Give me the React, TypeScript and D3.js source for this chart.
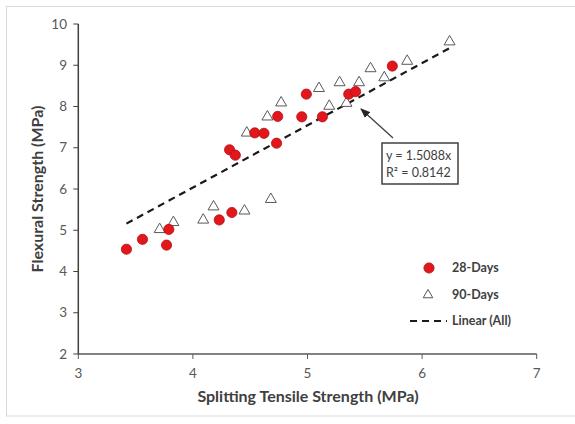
import React from "react";
import * as d3 from "d3";

const days28X = [3.42, 3.56, 3.77, 3.79, 4.23, 4.34, 4.32, 4.37, 4.54, 4.62, 4.73, 4.74, 4.95, 4.99, 5.13, 5.36, 5.42, 5.74];
const days28Y = [4.54, 4.78, 4.64, 5.02, 5.25, 5.43, 6.95, 6.82, 7.36, 7.35, 7.11, 7.76, 7.75, 8.30, 7.75, 8.30, 8.36, 8.98];
const days90X = [3.71, 3.83, 4.09, 4.18, 4.45, 4.68, 4.47, 4.65, 4.77, 5.10, 5.19, 5.28, 5.45, 5.34, 5.55, 5.67, 5.87, 6.24];
const days90Y = [5.02, 5.19, 5.25, 5.57, 5.47, 5.75, 7.36, 7.75, 8.09, 8.44, 8.01, 8.58, 8.58, 8.08, 8.92, 8.70, 9.10, 9.57];
const slope = 1.5088;
const fitRange = [3.42, 6.25];
const xTicks = [3, 4, 5, 6, 7];
const yTicks = [2, 3, 4, 5, 6, 7, 8, 9, 10];
const legendLabels = ["28-Days", "90-Days", "Linear (All)"];
const eqLines = ["y = 1.5088x", "R² = 0.8142"];

const W = 575;
const H = 424;
const FONT = "Lato, 'Open Sans', sans-serif";

export default function App() {
  const x = d3.scaleLinear().domain([3, 7]).range([78.3, 536.7]);
  const y = d3.scaleLinear().domain([2, 10]).range([354, 24]);
  const tri = d3.symbol().type(d3.symbolTriangle).size(52)();
  const legendTri = d3.symbol().type(d3.symbolTriangle).size(40)();
  const line = d3
    .line<number>()
    .x((d) => x(d))
    .y((d) => y(slope * d));

  return (
    <div style={{ position: "absolute", left: 0, top: 0 }}>
      <svg width={W} height={H} style={{ display: "block", fontFamily: FONT }}>
        <rect x={0} y={0} width={W} height={H} fill="#ffffff" />
        <rect x={6.5} y={6.5} width={570} height={409.5} fill="#ffffff" stroke="#d9d9d9" strokeWidth={1} />

        {/* axes */}
        <line x1={x(3)} x2={x(7)} y1={y(2)} y2={y(2)} stroke="#595959" strokeWidth={1.5} />
        <line x1={x(3)} x2={x(3)} y1={y(2)} y2={y(10)} stroke="#404040" strokeWidth={1.5} />
        {xTicks.map((t) => (
          <g key={"xt" + t}>
            <line x1={x(t)} x2={x(t)} y1={y(2)} y2={y(2) + 5} stroke="#595959" strokeWidth={1} />
            <text x={x(t)} y={378} textAnchor="middle" fontSize={13.5} fill="#595959">
              {t}
            </text>
          </g>
        ))}
        {yTicks.map((t) => (
          <g key={"yt" + t}>
            <line x1={x(3) - 5} x2={x(3)} y1={y(t)} y2={y(t)} stroke="#404040" strokeWidth={1} />
            <text x={67} y={y(t) + 4.5} textAnchor="end" fontSize={13.5} fill="#595959">
              {t}
            </text>
          </g>
        ))}

        <text x={308} y={402} textAnchor="middle" fontSize={16} fontWeight="bold" fill="#404040">
          Splitting Tensile Strength (MPa)
        </text>
        <text
          transform={`translate(43,${(y(2) + y(10)) / 2}) rotate(-90)`}
          textAnchor="middle"
          fontSize={16}
          fontWeight="bold"
          fill="#404040"
        >
          Flexural Strength (MPa)
        </text>

        {/* trend line */}
        <path d={line(fitRange) || ""} fill="none" stroke="#1a1a1a" strokeWidth={2.2} strokeDasharray="7,5" />

        {/* 90-days triangles */}
        {days90X.map((v, i) => (
          <path
            key={"t" + i}
            d={tri || ""}
            transform={`translate(${x(v)},${y(days90Y[i])})`}
            fill="#ffffff"
            stroke="#595959"
            strokeWidth={1}
          />
        ))}
        {/* 28-days circles */}
        {days28X.map((v, i) => (
          <circle key={"c" + i} cx={x(v)} cy={y(days28Y[i])} r={5.1} fill="#e3161b" stroke="#b01014" strokeWidth={0.8} />
        ))}

        {/* annotation arrow */}
        <defs>
          <marker id="arrowHead" markerWidth={10} markerHeight={8} refX={9} refY={4} orient="auto" markerUnits="userSpaceOnUse">
            <path d="M0,0 L10,4 L0,8 Z" fill="#262626" />
          </marker>
        </defs>
        <line x1={393} y1={138} x2={361} y2={109} stroke="#404040" strokeWidth={1.3} markerEnd="url(#arrowHead)" />
        <rect x={382} y={143} width={76} height={41} fill="#ffffff" stroke="#404040" strokeWidth={1.5} />
        {eqLines.map((s, i) => (
          <text key={"eq" + i} x={386} y={160 + i * 17} fontSize={12.5} fill="#404040">
            {s}
          </text>
        ))}

        {/* legend */}
        <circle cx={429} cy={268} r={5.1} fill="#e3161b" stroke="#b01014" strokeWidth={0.8} />
        <path d={legendTri || ""} transform="translate(428,295)" fill="#ffffff" stroke="#595959" strokeWidth={1} />
        <line x1={410} x2={447} y1={321} y2={321} stroke="#1a1a1a" strokeWidth={2.2} strokeDasharray="7,5" />
        {legendLabels.map((s, i) => (
          <text key={"lg" + i} x={452} y={272 + i * 26.5} fontSize={12.5} fontWeight="bold" fill="#404040">
            {s}
          </text>
        ))}
      </svg>
    </div>
  );
}
